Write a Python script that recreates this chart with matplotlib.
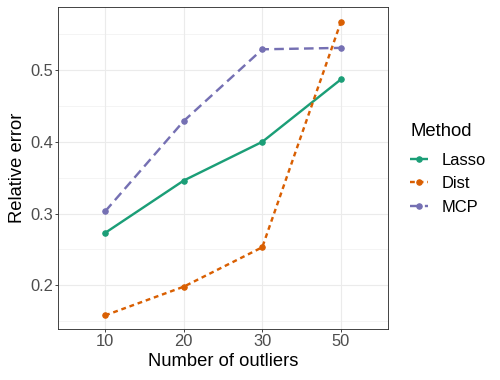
import matplotlib
matplotlib.use("Agg")
import matplotlib.pyplot as plt

plt.rcParams['font.family'] = ['Liberation Sans', 'DejaVu Sans']

outliers = ['10', '20', '30', '50']
lasso = [0.273, 0.346, 0.400, 0.487]
dist = [0.158, 0.198, 0.253, 0.567]
mcp = [0.303, 0.429, 0.529, 0.531]

methods = ['Lasso', 'Dist', 'MCP']
colors = ['#1B9E77', '#D95F02', '#7570B3']
dashes = [None, (2, 1.6), (4, 2.2)]

fig = plt.figure(figsize=(500 / 72, 380 / 72), dpi=72)
ax = fig.add_axes([58 / 500, 1 - 329 / 380, 330 / 500, 322 / 380])

xpos = list(range(1, len(outliers) + 1))
handles = []
for vals, name, col, ds in zip([lasso, dist, mcp], methods, colors, dashes):
    line, = ax.plot(xpos, vals, color=col, lw=2.4, marker='o', markersize=5.5,
                    solid_capstyle='butt', dash_capstyle='butt', label=name)
    if ds is not None:
        line.set_dashes(ds)
    handles.append(line)

ax.set_xlim(0.4, 4.6)
ax.set_ylim(0.139, 0.588)
ax.set_xticks(xpos)
ax.set_xticklabels(outliers)
ax.set_yticks([0.2, 0.3, 0.4, 0.5])
ax.set_yticks([0.15, 0.25, 0.35, 0.45, 0.55], minor=True)

ax.grid(True, which='major', color='#EBEBEB', lw=1.1)
ax.grid(True, which='minor', color='#EBEBEB', lw=0.55)
ax.set_axisbelow(True)
for s in ax.spines.values():
    s.set_color('#333333')
    s.set_linewidth(0.9)
ax.tick_params(which='major', length=3, color='#333333', labelsize=16.5,
               labelcolor='#4D4D4D', width=0.9, pad=2)
ax.tick_params(which='minor', length=0)

ax.set_xlabel('Number of outliers', fontsize=18.4, labelpad=4)
ax.set_ylabel('Relative error', fontsize=18.4, labelpad=4)

# legend: title placed separately to match spacing
fig.text(410 / 500, 1 - 131 / 380, 'Method', fontsize=18.5, ha='left', va='center')
leg = fig.legend(handles=handles, loc='upper left', bbox_to_anchor=(410 / 500, 1 - 153 / 380),
                 frameon=False, fontsize=16.5,
                 handlelength=1.1, handletextpad=0.8, labelspacing=0.5,
                 borderaxespad=0, borderpad=0)

fig.savefig('out.png', dpi=72)
